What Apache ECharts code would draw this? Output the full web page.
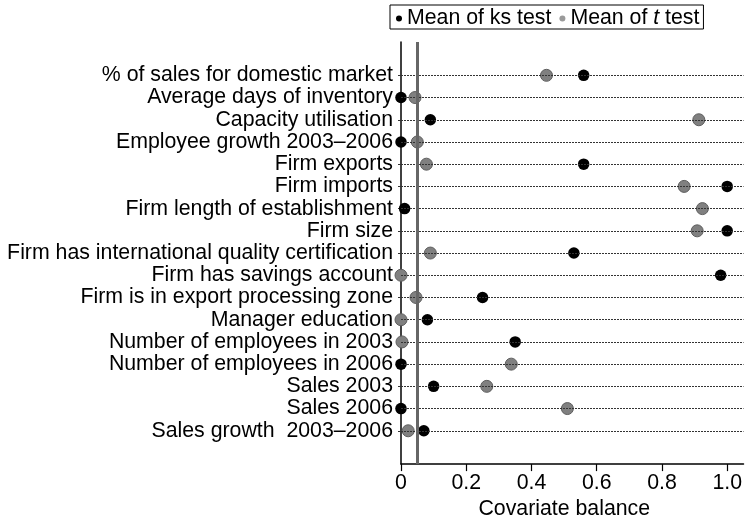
<!DOCTYPE html>
<html>
<head>
<meta charset="utf-8">
<script src="https://cdn.jsdelivr.net/npm/echarts@6/dist/echarts.min.js"></script>
<style>html,body{margin:0;padding:0;background:#fff}#c{width:745px;height:525px}</style>
</head>
<body>
<div id="c"></div>
<script>
var categories = [
  '% of sales for domestic market',
  'Average days of inventory',
  'Capacity utilisation',
  'Employee growth 2003\u20132006',
  'Firm exports',
  'Firm imports',
  'Firm length of establishment',
  'Firm size',
  'Firm has international quality certification',
  'Firm has savings account',
  'Firm is in export processing zone',
  'Manager education',
  'Number of employees in 2003',
  'Number of employees in 2006',
  'Sales 2003',
  'Sales 2006',
  'Sales growth  2003\u20132006'
];
var ksMeans = [0.56, 0.0, 0.09, 0.0, 0.56, 1.0, 0.011, 1.0, 0.53, 0.98, 0.25, 0.081, 0.35, 0.0, 0.10, 0.0, 0.07];
var tMeans  = [0.446, 0.043, 0.913, 0.05, 0.078, 0.868, 0.924, 0.908, 0.09, 0.0, 0.046, 0.0, 0.003, 0.338, 0.263, 0.51, 0.022];
var xTicks = [0, 0.2, 0.4, 0.6, 0.8, 1.0];
var threshold = 0.05;

var yData = [''].concat(categories).concat(['']);
var FONT = '"Liberation Sans", Arial, Helvetica, sans-serif';
var FS = 21.3;
var chart = echarts.init(document.getElementById('c'), null, {renderer: 'canvas'});
chart.setOption({
  animation: false,
  backgroundColor: '#fff',
  textStyle: {fontFamily: FONT, color: '#000'},
  legend: {
    left: 390, top: 5,
    padding: [3, 4, 0, 6],
    itemGap: 8,
    itemWidth: 6, itemHeight: 6,
    icon: 'circle',
    borderColor: '#000', borderWidth: 1, borderRadius: 0,
    data: [
      {name: 'Mean of ks test', itemStyle: {color: '#000', borderWidth: 0}},
      {name: 'Mean of t test', itemStyle: {color: '#9a9a9a', borderWidth: 0}}
    ],
    formatter: function (n) { return n === 'Mean of t test' ? 'Mean of {i|t} test' : n; },
    textStyle: {
      fontFamily: FONT, fontSize: FS, color: '#000',
      rich: {i: {fontStyle: 'italic', fontFamily: FONT, fontSize: FS, color: '#000'}}
    }
  },
  grid: {left: 401, right: 0, top: 42, bottom: 58, containLabel: false},
  xAxis: {
    type: 'value', min: 0, max: 1.05,
    name: 'Covariate balance', nameLocation: 'middle', nameGap: 34,
    nameTextStyle: {fontFamily: FONT, fontSize: FS, color: '#000', padding: [0, 16, 0, 0]},
    axisLine: {show: true, lineStyle: {color: '#000', width: 1.5}},
    axisTick: {show: true, length: 7, lineStyle: {color: '#000', width: 1.2}, customValues: xTicks},
    axisLabel: {
      fontFamily: FONT, fontSize: FS, color: '#000', margin: 9,
      customValues: xTicks,
      formatter: function (v) { return v === 0 ? '0' : v.toFixed(1); }
    },
    splitLine: {show: false}
  },
  yAxis: {
    type: 'category', inverse: true, data: yData, boundaryGap: true,
    axisLine: {show: true, lineStyle: {color: '#000', width: 1.5}},
    axisTick: {show: true, length: 3, alignWithLabel: true, lineStyle: {color: '#333'},
      interval: function (i) { return i > 0 && i < yData.length - 1; }},
    axisLabel: {fontFamily: FONT, fontSize: FS, color: '#000', margin: 8, interval: 0},
    splitLine: {show: false}
  },
  series: [
    {
      name: 'Mean of t test', type: 'scatter', z: 3,
      symbol: 'circle', symbolSize: 12,
      itemStyle: {color: '#808080', borderColor: '#5e5e5e', borderWidth: 1, opacity: 1},
      data: tMeans.map(function (v, i) { return [v, categories[i]]; }),
      markLine: {
        silent: true, symbol: 'none', animation: false,
        label: {show: false},
        lineStyle: {color: '#333', width: 1, type: [2, 1]},
        data: categories.map(function (c) { return {yAxis: c}; })
      }
    },
    {
      name: 'Mean of ks test', type: 'scatter', z: 4,
      symbol: 'circle', symbolSize: 11.5,
      itemStyle: {color: '#000', opacity: 1},
      data: ksMeans.map(function (v, i) { return [v, categories[i]]; }),
      markLine: {
        silent: true, symbol: 'none', animation: false,
        label: {show: false},
        lineStyle: {color: '#666', width: 3, type: 'solid'},
        data: [{xAxis: threshold}]
      }
    }
  ]
});
</script>
</body>
</html>
